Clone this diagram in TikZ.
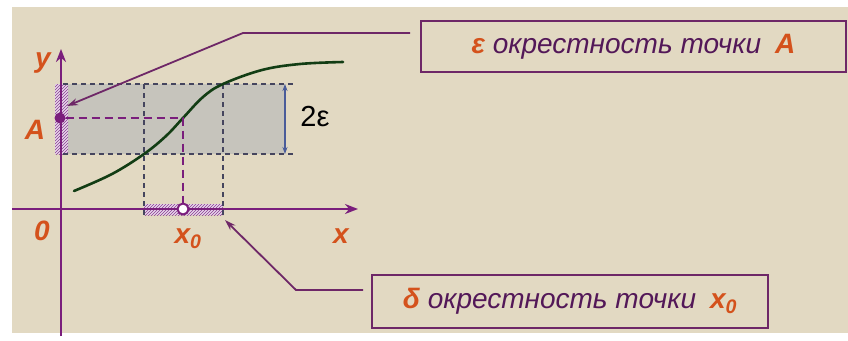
\documentclass[tikz,border=0pt]{standalone}
\usepackage{fontspec}
\setmainfont{Liberation Sans}
\usetikzlibrary{patterns,arrows.meta}
\definecolor{bg}{HTML}{E2D9C2}
\definecolor{axc}{HTML}{7A1E7C}
\definecolor{orng}{HTML}{D4521C}
\definecolor{boxc}{HTML}{6E2767}
\definecolor{txtc}{HTML}{531858}
\definecolor{dashc}{HTML}{45455E}
\definecolor{curvec}{HTML}{123D14}
\definecolor{bandc}{HTML}{C6C4BC}
\definecolor{arrc}{HTML}{4A5C9A}
\definecolor{hatchc}{HTML}{8A3A94}
\begin{document}
\begin{tikzpicture}[x=1pt,y=-1pt,
  lbl/.style={text=orng,font=\fontsize{28}{30}\selectfont\bfseries\itshape,inner sep=0pt},
  calloutbox/.style={draw=boxc,line width=1.8pt,inner sep=0pt,text=txtc,
     font=\fontsize{28}{30}\selectfont\itshape},
  callout/.style={draw=boxc,line width=1.8pt,-{Stealth[length=11pt,width=7pt]}},
  guide/.style={draw=dashc,line width=1.2pt,dash pattern=on 5pt off 4pt},
  hatchbox/.style={fill=white!55!hatchc!45!white,postaction={pattern=north east lines,pattern color=hatchc}},
  axis/.style={draw=axc,line width=2.5pt,-{Stealth[length=13pt,width=10pt]}}
]
\useasboundingbox (0,0) rectangle (848,340);
\fill[white] (0,0) rectangle (848,340);
\fill[bg] (12,7) rectangle (848,333);

% band
\fill[bandc] (68,84) rectangle (285,154);
% hatched intervals
\fill[hatchbox] (55,84) rectangle (68,154);
\fill[hatchbox] (144,204) rectangle (223,215);
% guides
\coordinate (tl) at (63,84);
\coordinate (tr) at (293,84);
\coordinate (bl) at (63,154);
\coordinate (br) at (293,154);
\coordinate (v1t) at (144,84);
\coordinate (v1b) at (144,217);
\coordinate (v2t) at (223,84);
\coordinate (v2b) at (223,217);
\draw[guide] (tl) -- (tr);
\draw[guide] (bl) -- (br);
\draw[guide] (v1t) -- (v1b);
\draw[guide] (v2t) -- (v2b);

% axes
\coordinate (xs) at (12,209);
\coordinate (xe) at (358,209);
\coordinate (ys) at (61,336);
\coordinate (ye) at (61,49);
\draw[axis] (xs) -- (xe);
\draw[axis] (ys) -- (ye);

% curve
\draw[curvec,line width=2.6pt,line cap=round] plot[smooth,tension=0.6] coordinates
 {(74,191) (112,174) (144,154) (166,136) (183,118) (203,97) (223,84) (262,70) (300,64) (343,62)};

% A and x0
\coordinate (P) at (183,118);
\node[circle,fill=axc,inner sep=0pt,minimum size=11pt] (A) at (60,118) {};
\node[circle,draw=axc,fill=white,line width=2pt,inner sep=0pt,minimum size=11pt] (X0) at (183,209) {};
\draw[axc,line width=2pt,dash pattern=on 8pt off 5pt] (A) -- (P) -- (X0);

% 2 epsilon
\coordinate (et) at (285,84);
\coordinate (eb) at (285,154);
\draw[arrc,line width=1.2pt,{Stealth[length=7pt,width=5pt]}-{Stealth[length=7pt,width=5pt]}] (et) -- (eb);
\node[font=\fontsize{29}{31}\selectfont,inner sep=0pt] (eps) at (315,117) {2ε};

% labels
\node[lbl] (ly) at (43,63) {y};
\node[lbl] (lA) at (35,130) {A};
\node[lbl] (l0) at (42,231) {0};
\node[lbl] (lx0) at (188,239) {x\textsubscript{0}};
\node[lbl] (lx) at (341,236) {x};

% boxes
\node[calloutbox,minimum width=425pt,minimum height=51pt] (B1) at (633.5,46.5)
  {{\color{orng}\bfseries ε} окрестность точки\enspace{\color{orng}\bfseries A}};
\node[calloutbox,minimum width=396pt,minimum height=53pt] (B2) at (570,301.5)
  {{\color{orng}\bfseries δ} окрестность точки\enspace{\color{orng}\bfseries x\textsubscript{0}}};

% callouts
\coordinate (c1a) at (410,33);
\coordinate (c1b) at (243,33);
\coordinate (c1t) at (67,106);
\draw[callout] (c1a) -- (c1b) -- (c1t);
\coordinate (c2a) at (363,290);
\coordinate (c2b) at (296,290);
\coordinate (c2t) at (225,220);
\draw[callout] (c2a) -- (c2b) -- (c2t);
\end{tikzpicture}
\end{document}
